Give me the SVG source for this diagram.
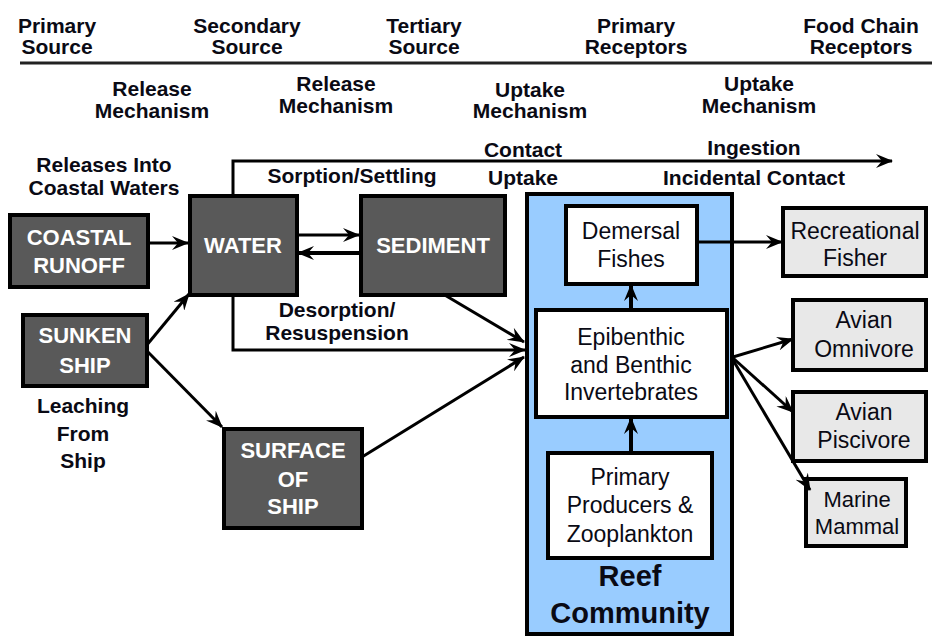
<svg xmlns="http://www.w3.org/2000/svg" width="935" height="637" viewBox="0 0 935 637">
<style>
text{font-family:"Liberation Sans",Arial,sans-serif;text-anchor:middle;fill:#0a0a14}
.h{font-size:21px;font-weight:bold}
.b{font-size:21px;font-weight:bold}
.w{font-size:22px;font-weight:bold;fill:#fff}
.r{font-size:23px}
.s{font-size:22px}
.dark{fill:#595959;stroke:#000;stroke-width:4}
.white{fill:#fff;stroke:#000;stroke-width:4}
.gray{fill:#e8e8e8;stroke:#000;stroke-width:4}
.reef{fill:#99ccff;stroke:#000;stroke-width:4}
.c{fill:none;stroke:#000;stroke-width:3}
</style>
<defs>
<marker id="ah" markerWidth="18" markerHeight="14" refX="16" refY="7" orient="auto" markerUnits="userSpaceOnUse">
<path d="M0,0 L17,7 L0,14 L6,7 z" fill="#000"/>
</marker>
</defs>
<g id="header">
<text class="h" x="57" y="33">Primary</text><text class="h" x="57" y="54">Source</text>
<text class="h" x="247" y="33">Secondary</text><text class="h" x="247" y="54">Source</text>
<text class="h" x="424" y="33">Tertiary</text><text class="h" x="424" y="54">Source</text>
<text class="h" x="636" y="33">Primary</text><text class="h" x="636" y="54">Receptors</text>
<text class="h" x="861" y="33">Food Chain</text><text class="h" x="861" y="54">Receptors</text>
<line x1="20" y1="63" x2="932" y2="63" stroke="#222" stroke-width="3"/>
<text class="h" x="152" y="96">Release</text><text class="h" x="152" y="118">Mechanism</text>
<text class="h" x="336" y="91">Release</text><text class="h" x="336" y="113">Mechanism</text>
<text class="h" x="530" y="97">Uptake</text><text class="h" x="530" y="118">Mechanism</text>
<text class="h" x="759" y="91">Uptake</text><text class="h" x="759" y="113">Mechanism</text>
</g>
<g id="labels">
<text class="b" x="104" y="172">Releases Into</text>
<text class="b" x="104" y="195">Coastal Waters</text>
<text class="b" x="352" y="183">Sorption/Settling</text>
<text class="b" x="523" y="157">Contact</text>
<text class="b" x="523" y="185">Uptake</text>
<text class="b" x="754" y="155">Ingestion</text>
<text class="b" x="754" y="185">Incidental Contact</text>
<text class="b" x="337" y="317">Desorption/</text>
<text class="b" x="337" y="340">Resuspension</text>
<text class="b" x="83" y="413">Leaching</text>
<text class="b" x="83" y="441">From</text>
<text class="b" x="83" y="468">Ship</text>
</g>
<g id="reef-community">
<rect class="reef" x="527" y="194" width="205" height="440"/>
<text x="630" y="586" style="font-size:29px;font-weight:bold">Reef</text>
<text x="630" y="623" style="font-size:29px;font-weight:bold">Community</text>
</g>
<g id="coastal-runoff">
<rect class="dark" x="10" y="215" width="138" height="72"/>
<text class="w" x="79" y="245">COASTAL</text><text class="w" x="79" y="273">RUNOFF</text>
</g>
<g id="water">
<rect class="dark" x="190" y="196" width="107" height="99"/>
<text class="w" x="243" y="253">WATER</text>
</g>
<g id="sediment">
<rect class="dark" x="361" y="196" width="144" height="99"/>
<text class="w" x="433" y="253">SEDIMENT</text>
</g>
<g id="sunken-ship">
<rect class="dark" x="23" y="315" width="124" height="71"/>
<text class="w" x="85" y="343">SUNKEN</text><text class="w" x="85" y="373">SHIP</text>
</g>
<g id="surface-of-ship">
<rect class="dark" x="224" y="429" width="138" height="99"/>
<text class="w" x="293" y="458">SURFACE</text><text class="w" x="293" y="487">OF</text><text class="w" x="293" y="514">SHIP</text>
</g>
<g id="demersal-fishes">
<rect class="white" x="566" y="206" width="131" height="78"/>
<text class="r" x="631" y="239">Demersal</text><text class="r" x="631" y="267">Fishes</text>
</g>
<g id="epibenthic">
<rect class="white" x="536" y="310" width="191" height="107"/>
<text class="r" x="631" y="345">Epibenthic</text><text class="r" x="631" y="373">and Benthic</text><text class="r" x="631" y="400">Invertebrates</text>
</g>
<g id="primary-producers">
<rect class="white" x="548" y="453" width="164" height="105"/>
<text class="r" x="630" y="485">Primary</text><text class="r" x="630" y="513">Producers &amp;</text><text class="r" x="630" y="542">Zooplankton</text>
</g>
<g id="recreational-fisher">
<rect class="gray" x="783" y="208" width="143" height="68"/>
<text class="r" x="855" y="239">Recreational</text><text class="r" x="855" y="266">Fisher</text>
</g>
<g id="avian-omnivore">
<rect class="gray" x="793" y="300" width="133" height="70"/>
<text class="r" x="864" y="328">Avian</text><text class="r" x="864" y="357">Omnivore</text>
</g>
<g id="avian-piscivore">
<rect class="gray" x="793" y="392" width="133" height="69"/>
<text class="r" x="864" y="420">Avian</text><text class="r" x="864" y="448">Piscivore</text>
</g>
<g id="marine-mammal">
<rect class="gray" x="806" y="479" width="100" height="67"/>
<text class="s" x="857" y="507">Marine</text><text class="s" x="857" y="534">Mammal</text>
</g>
<g id="connectors">
<path class="c" d="M148,243 L188,243" marker-end="url(#ah)"/>
<path class="c" d="M146,346 L189,294" marker-end="url(#ah)"/>
<path class="c" d="M146,350 L222,427" marker-end="url(#ah)"/>
<path class="c" d="M297,235 L359,235" marker-end="url(#ah)"/>
<path class="c" d="M361,253 L298,253" marker-end="url(#ah)" style="stroke-width:4"/>
<path class="c" d="M233,196 L233,161 L892,161" marker-end="url(#ah)"/>
<path class="c" d="M233,295 L233,350 L525,350" marker-end="url(#ah)"/>
<path class="c" d="M443,294 L524,342" marker-end="url(#ah)"/>
<path class="c" d="M362,457 L524,357" marker-end="url(#ah)"/>
<path class="c" d="M697,242 L782,242" marker-end="url(#ah)"/>
<path class="c" d="M631,310 L631,285" marker-end="url(#ah)" style="stroke-width:4"/>
<path class="c" d="M631,453 L631,418" marker-end="url(#ah)" style="stroke-width:4"/>
<path class="c" d="M733,357 L793,339" marker-end="url(#ah)"/>
<path class="c" d="M733,358 L793,412" marker-end="url(#ah)"/>
<path class="c" d="M733,360 L810,490" marker-end="url(#ah)"/>
</g>
</svg>
